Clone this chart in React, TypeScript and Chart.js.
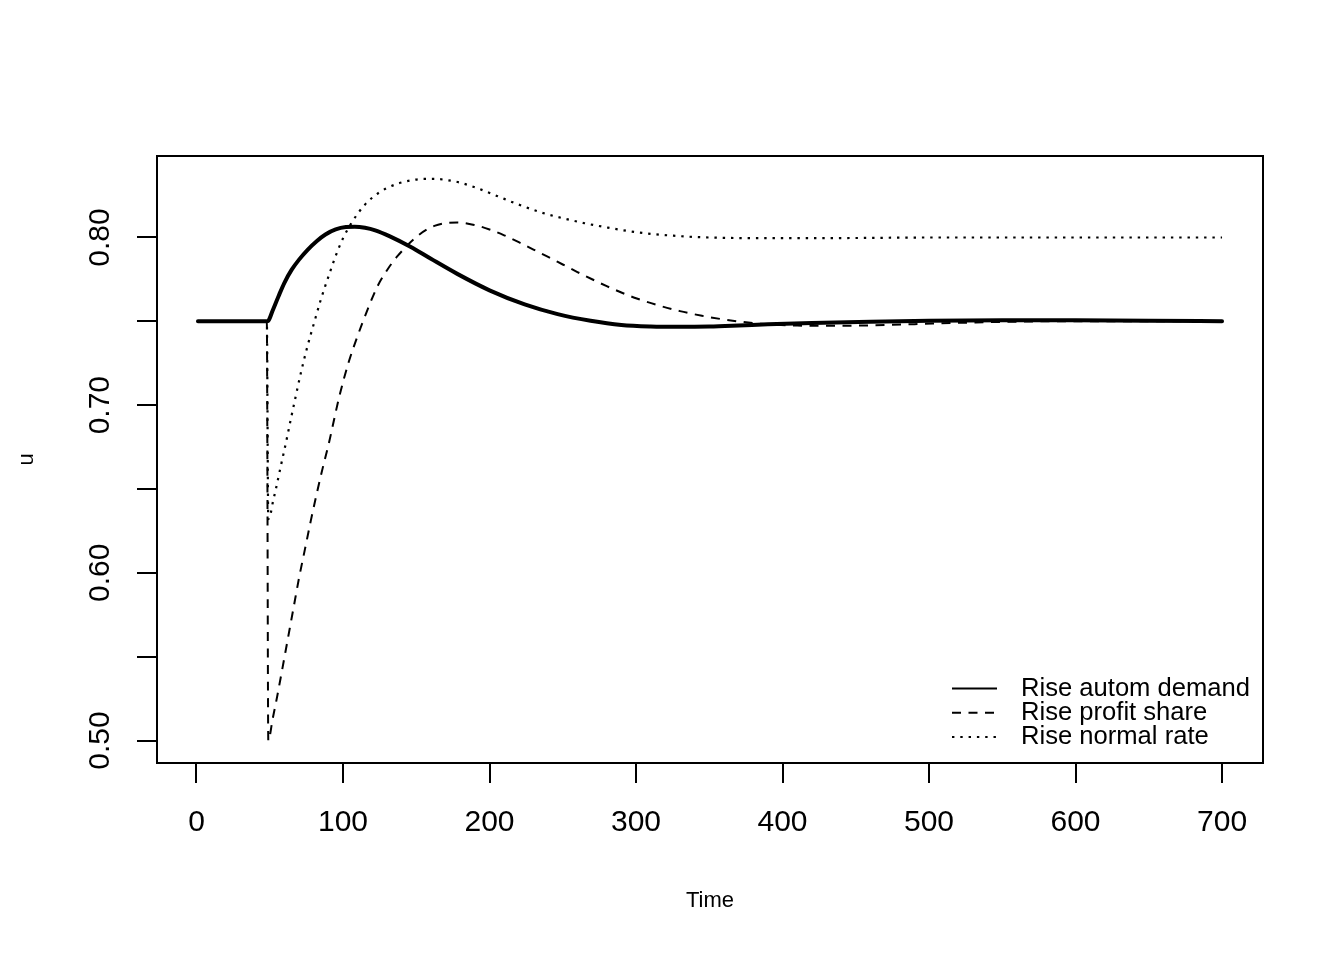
import React, { useEffect, useRef } from 'react';
import { Chart, registerables } from 'chart.js';

Chart.register(...registerables);
Chart.defaults.font.family = "'Liberation Sans', Arial, Helvetica, sans-serif";

// ---- Data ----
const seriesLabels = ['Rise autom demand', 'Rise profit share', 'Rise normal rate'];

const timeAutom = [1, 48, 49, 52, 56, 60, 65, 70, 76, 82, 88, 95, 102, 108, 115, 122, 132, 146, 160, 178, 200, 224, 246.5, 269, 290, 310, 330, 350, 370, 390, 420, 460, 500, 550, 600, 650, 700];
const uAutom = [0.75, 0.75, 0.7503, 0.7565, 0.765, 0.773, 0.7808, 0.7868, 0.7928, 0.7978, 0.8018, 0.8048, 0.8062, 0.8064, 0.8058, 0.8043, 0.8007, 0.7945, 0.7873, 0.7783, 0.7685, 0.7601, 0.7543, 0.7503, 0.7478, 0.7469, 0.7467, 0.7469, 0.7475, 0.7482, 0.749, 0.7498, 0.7503, 0.7506, 0.7506, 0.7504, 0.75];

const timeProfit = [1, 48, 49, 52, 55, 58, 62, 66, 70, 74, 78, 82, 86, 90, 97.6, 104, 110, 116.9, 123.7, 130.5, 137.3, 151, 162.4, 178, 190, 200, 210, 220, 230, 240, 250, 260, 270, 280, 290, 300, 315, 330, 345, 360, 375, 390, 410, 430, 460, 490, 520, 560, 600, 650, 700];
const uProfit = [0.75, 0.75, 0.5, 0.513, 0.526, 0.54, 0.559, 0.578, 0.597, 0.614, 0.631, 0.647, 0.662, 0.676, 0.7056, 0.726, 0.7414, 0.7573, 0.7712, 0.7811, 0.789, 0.801, 0.8069, 0.809, 0.8074, 0.8048, 0.8013, 0.7972, 0.7928, 0.7884, 0.7839, 0.7794, 0.7751, 0.771, 0.7672, 0.7638, 0.7596, 0.7561, 0.7533, 0.7511, 0.7494, 0.7482, 0.7475, 0.7473, 0.7476, 0.7483, 0.7491, 0.7498, 0.7501, 0.7501, 0.7499];

const timeNormal = [1, 48, 49, 50.7, 52, 54.1, 57.5, 61, 64.3, 67.7, 71.2, 75.7, 80.2, 84.8, 90, 95, 100, 105, 110, 115, 120, 125, 130, 138, 146, 155, 163, 172, 180, 192, 205, 220, 235, 250, 265, 280, 295, 310, 325, 340, 360, 380, 410, 450, 500, 600, 700];
const uNormal = [0.75, 0.75, 0.632, 0.6357, 0.6417, 0.6496, 0.6635, 0.6774, 0.6913, 0.7052, 0.7191, 0.735, 0.7489, 0.7628, 0.7765, 0.789, 0.7995, 0.8075, 0.8142, 0.8196, 0.8238, 0.827, 0.8295, 0.8323, 0.834, 0.8349, 0.8349, 0.8341, 0.8327, 0.8293, 0.8248, 0.8196, 0.815, 0.8115, 0.8085, 0.806, 0.8038, 0.8022, 0.8011, 0.8003, 0.7998, 0.7996, 0.7996, 0.7997, 0.8, 0.8, 0.8];

const xTicks = [0, 100, 200, 300, 400, 500, 600, 700];
const xTickLabels = ['0', '100', '200', '300', '400', '500', '600', '700'];
const yTicks = [0.5, 0.55, 0.6, 0.65, 0.7, 0.75, 0.8];
const yTickLabels = ['0.50', '', '0.60', '', '0.70', '', '0.80'];

const pairs = (t: number[], u: number[]) => t.map((x, i) => ({ x, y: u[i] }));

// ---- Plugins ----
const boxPlugin = {
  id: 'rBox',
  afterDraw(chart: any) {
    const { ctx, chartArea } = chart;
    ctx.save();
    ctx.strokeStyle = '#000';
    ctx.lineWidth = 2;
    ctx.strokeRect(chartArea.left, chartArea.top, chartArea.right - chartArea.left, chartArea.bottom - chartArea.top);
    ctx.restore();
  },
};

const legendPlugin = {
  id: 'rLegend',
  afterDraw(chart: any) {
    const { ctx, chartArea } = chart;
    ctx.save();
    ctx.font = "25.6px 'Liberation Sans', Arial, sans-serif";
    ctx.fillStyle = '#000';
    ctx.textBaseline = 'middle';
    ctx.textAlign = 'left';
    chart.data.datasets.forEach((ds: any, i: number) => {
      const y = chartArea.bottom - 74.5 + i * 24.3;
      const x0 = chartArea.right - 311;
      const x1 = chartArea.right - 266;
      ctx.beginPath();
      ctx.setLineDash(ds.borderDash || []);
      ctx.lineWidth = 2;
      ctx.lineCap = 'butt';
      ctx.strokeStyle = '#000';
      ctx.moveTo(x0, y);
      ctx.lineTo(x1, y);
      ctx.stroke();
      ctx.setLineDash([]);
      ctx.fillText(ds.label, chartArea.right - 242, y);
    });
    ctx.restore();
  },
};

export default function App() {
  const ref = useRef<HTMLCanvasElement>(null);

  useEffect(() => {
    const canvas = ref.current;
    if (!canvas) return;
    const common = {
      showLine: true,
      borderColor: '#000',
      pointRadius: 0,
      pointHoverRadius: 0,
      fill: false,
      cubicInterpolationMode: 'monotone' as const,
      borderJoinStyle: 'round' as const,
    };
    const chart = new Chart(canvas, {
      type: 'scatter',
      data: {
        datasets: [
          { ...common, label: seriesLabels[0], data: pairs(timeAutom, uAutom), borderWidth: 4, borderCapStyle: 'round' },
          { ...common, label: seriesLabels[1], data: pairs(timeProfit, uProfit), borderWidth: 2, borderDash: [9, 7.5], borderCapStyle: 'butt' },
          { ...common, label: seriesLabels[2], data: pairs(timeNormal, uNormal), borderWidth: 2.2, borderDash: [2.4, 5.9], borderCapStyle: 'butt' },
        ],
      },
      options: {
        responsive: false,
        animation: false,
        events: [],
        layout: { padding: { top: 156, right: 81, left: 0, bottom: 0 } },
        plugins: { legend: { display: false }, tooltip: { enabled: false } },
        scales: {
          x: {
            type: 'linear',
            min: -26.96,
            max: 727.96,
            afterBuildTicks: (s: any) => {
              s.ticks = xTicks.map((v) => ({ value: v }));
            },
            afterFit: (s: any) => {
              s.height = 197;
            },
            border: { display: false },
            grid: { drawOnChartArea: false, drawTicks: true, tickLength: 20, color: '#000', lineWidth: 2 },
            ticks: {
              autoSkip: false,
              minRotation: 0,
              maxRotation: 0,
              padding: 22,
              color: '#000',
              font: { size: 30 },
              callback: (_v: any, i: number) => xTickLabels[i],
            },
            title: { display: true, text: 'Time', color: '#000', font: { size: 22 }, padding: { top: 0, bottom: 46 } },
          },
          y: {
            type: 'linear',
            min: 0.4866,
            max: 0.8486,
            afterBuildTicks: (s: any) => {
              s.ticks = yTicks.map((v) => ({ value: v }));
            },
            afterFit: (s: any) => {
              s.width = 157;
            },
            border: { display: false },
            grid: { drawOnChartArea: false, drawTicks: true, tickLength: 20, color: '#000', lineWidth: 2 },
            ticks: {
              autoSkip: false,
              minRotation: 90,
              maxRotation: 90,
              crossAlign: 'center',
              padding: 7,
              color: '#000',
              font: { size: 30 },
              callback: (_v: any, i: number) => yTickLabels[i],
            },
            title: { display: true, text: 'u', color: '#000', font: { size: 22 }, padding: { top: 14, bottom: 0 } },
          },
        },
      },
      plugins: [boxPlugin, legendPlugin],
    } as any);
    return () => chart.destroy();
  }, []);

  return (
    <div style={{ position: 'absolute', left: 0, top: 0, width: 1344, height: 960, background: '#fff' }}>
      <canvas ref={ref} width={1344} height={960} style={{ display: 'block', width: 1344, height: 960 }} />
    </div>
  );
}
